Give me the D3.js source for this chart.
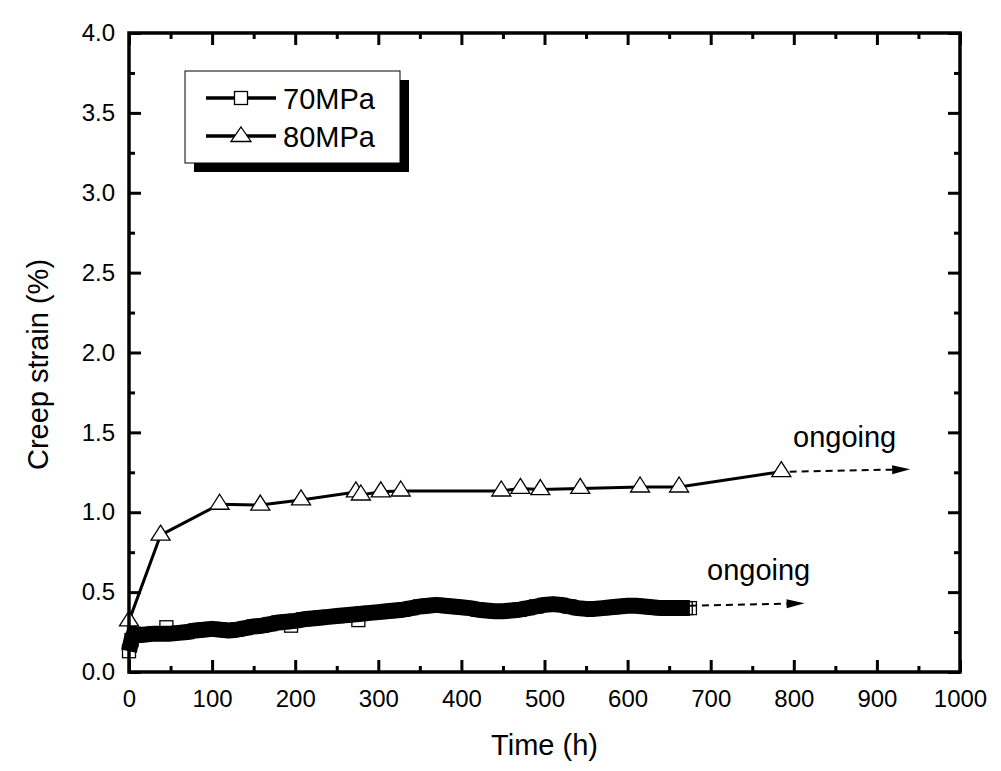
<!DOCTYPE html>
<html>
<head>
<meta charset="utf-8">
<script src="https://cdn.jsdelivr.net/npm/d3@7"></script>
<style>
  html, body { margin: 0; padding: 0; background: #fff; }
  svg { display: block; }
  text { font-family: "Liberation Sans", Arial, sans-serif; fill: #000; }
</style>
</head>
<body>
<svg id="chart" width="1001" height="771"></svg>
<script>
// ---------------- data ----------------
// 70 MPa (dense record, read off the band centre)
const hours70  = [0, 3, 6, 10, 20, 30, 40, 50, 60, 70, 80, 90, 100, 110, 120, 130, 140, 150, 160, 170, 180, 190, 200,
                  210, 220, 230, 240, 250, 260, 270, 280, 290, 300, 310, 320, 330, 340, 350, 360, 370, 380, 390, 400,
                  410, 420, 430, 440, 450, 460, 470, 480, 490, 500, 510, 520, 530, 540, 550, 560, 570, 580, 590, 600,
                  610, 620, 630, 640, 650, 660, 670, 675];
const strain70 = [0.13, 0.20, 0.24, 0.23, 0.235, 0.24, 0.24, 0.24, 0.245, 0.25, 0.26, 0.265, 0.27, 0.265, 0.26, 0.265, 0.275, 0.285, 0.29, 0.30, 0.31, 0.315, 0.32,
                  0.33, 0.335, 0.34, 0.345, 0.35, 0.355, 0.36, 0.365, 0.37, 0.375, 0.38, 0.385, 0.39, 0.40, 0.41, 0.415, 0.42, 0.415, 0.41, 0.405,
                  0.40, 0.39, 0.385, 0.38, 0.38, 0.385, 0.39, 0.40, 0.41, 0.42, 0.425, 0.42, 0.41, 0.40, 0.395, 0.395, 0.40, 0.405, 0.41, 0.415,
                  0.415, 0.41, 0.405, 0.40, 0.40, 0.40, 0.40, 0.40];
// a few 70 MPa readings that stick out of the band
const hours70Out  = [45, 195, 276];
const strain70Out = [0.28, 0.29, 0.325];

// 80 MPa
const hours80  = [0, 38, 109, 158, 207, 273, 279, 303, 327, 448, 471, 495, 543, 615, 662, 785];
const strain80 = [0.32, 0.857, 1.05, 1.045, 1.077, 1.127, 1.108, 1.128, 1.133, 1.133, 1.149, 1.142, 1.149, 1.158, 1.158, 1.254];

// "ongoing" arrows: [start, tip] in data units
const arrow70 = { h: [675, 813], v: [0.415, 0.43] };
const arrow80 = { h: [795, 940], v: [1.254, 1.269] };
const noteText = "ongoing";
const seriesNames = ["70MPa", "80MPa"];

const xTicks = [0, 100, 200, 300, 400, 500, 600, 700, 800, 900, 1000];
const xMinor = [50, 150, 250, 350, 450, 550, 650, 750, 850, 950];
const yTicks = [0, 0.5, 1.0, 1.5, 2.0, 2.5, 3.0, 3.5, 4.0];
const yMinor = [0.25, 0.75, 1.25, 1.75, 2.25, 2.75, 3.25, 3.75];
const xTitle = "Time (h)";
const yTitle = "Creep strain (%)";

// ---------------- layout ----------------
const L = 129, R = 960, T = 33, B = 672;
const svg = d3.select("#chart");
const x = d3.scaleLinear().domain([0, 1000]).range([L, R]);
const y = d3.scaleLinear().domain([0, 4]).range([B, T]);

// ---------------- axes ----------------
function styleAxis(g) {
  g.select(".domain").remove();
  g.selectAll(".tick line").attr("stroke", "#000").attr("stroke-width", 3);
  g.selectAll(".tick text").attr("font-size", 24).attr("font-family", "Liberation Sans, Arial, sans-serif");
}
// bottom
svg.append("g").attr("transform", `translate(0,${B})`)
  .call(d3.axisBottom(x).tickValues(xTicks).tickSizeInner(-12).tickSizeOuter(0).tickPadding(18).tickFormat(d3.format("d")))
  .call(styleAxis);
svg.append("g").attr("transform", `translate(0,${B})`)
  .call(d3.axisBottom(x).tickValues(xMinor).tickSizeInner(-6).tickSizeOuter(0).tickFormat(""))
  .call(styleAxis);
// top
svg.append("g").attr("transform", `translate(0,${T})`)
  .call(d3.axisTop(x).tickValues(xTicks).tickSizeInner(-12).tickSizeOuter(0).tickFormat(""))
  .call(styleAxis);
svg.append("g").attr("transform", `translate(0,${T})`)
  .call(d3.axisTop(x).tickValues(xMinor).tickSizeInner(-6).tickSizeOuter(0).tickFormat(""))
  .call(styleAxis);
// left
svg.append("g").attr("transform", `translate(${L},0)`)
  .call(d3.axisLeft(y).tickValues(yTicks).tickSizeInner(-12).tickSizeOuter(0).tickPadding(14).tickFormat(d3.format(".1f")))
  .call(styleAxis);
svg.append("g").attr("transform", `translate(${L},0)`)
  .call(d3.axisLeft(y).tickValues(yMinor).tickSizeInner(-6).tickSizeOuter(0).tickFormat(""))
  .call(styleAxis);
// right
svg.append("g").attr("transform", `translate(${R},0)`)
  .call(d3.axisRight(y).tickValues(yTicks).tickSizeInner(-12).tickSizeOuter(0).tickFormat(""))
  .call(styleAxis);
svg.append("g").attr("transform", `translate(${R},0)`)
  .call(d3.axisRight(y).tickValues(yMinor).tickSizeInner(-6).tickSizeOuter(0).tickFormat(""))
  .call(styleAxis);

// axis titles
svg.append("text").attr("x", (L + R) / 2).attr("y", 755)
  .attr("text-anchor", "middle").attr("font-size", 29).text(xTitle);
svg.append("text").attr("transform", `translate(48,${(T + B) / 2 + 12}) rotate(-90)`)
  .attr("text-anchor", "middle").attr("font-size", 29).text(yTitle);

// ---------------- series ----------------
const d70 = hours70.map((h, i) => ({ h, v: strain70[i] }));
const d70out = hours70Out.map((h, i) => ({ h, v: strain70Out[i] }));
const d80 = hours80.map((h, i) => ({ h, v: strain80[i] }));
const line = d3.line().x(d => x(d.h)).y(d => y(d.v));

const plot = svg.append("g");

// 70 MPa: dense overlapping hollow squares form a thick black band
plot.append("path").datum(d70).attr("d", line)
  .attr("fill", "none").attr("stroke", "#000").attr("stroke-width", 16)
  .attr("stroke-linejoin", "round").attr("stroke-linecap", "butt");
const sq = 13;
plot.selectAll("rect.s70").data(d70.concat(d70out)).join("rect")
  .attr("class", "s70")
  .attr("x", d => x(d.h) - sq / 2).attr("y", d => y(d.v) - sq / 2)
  .attr("width", sq).attr("height", sq)
  .attr("fill", "none").attr("stroke", "#000").attr("stroke-width", 1.3);

// 80 MPa
plot.append("path").datum(d80).attr("d", line)
  .attr("fill", "none").attr("stroke", "#000").attr("stroke-width", 3);
const triPath = "M0,-10L9.5,5L-9.5,5Z";
plot.selectAll("path.t80").data(d80).join("path")
  .attr("class", "t80")
  .attr("d", triPath)
  .attr("transform", d => `translate(${x(d.h)},${y(d.v)})`)
  .attr("fill", "#fff").attr("stroke", "#000").attr("stroke-width", 1.3);

// ---------------- ongoing arrows ----------------
function arrow(a) {
  const x0 = x(a.h[0]), y0 = y(a.v[0]), x1 = x(a.h[1]), y1 = y(a.v[1]);
  const ang = Math.atan2(y1 - y0, x1 - x0);
  const len = 18, hw = 4.5;
  const bx = x1 - len * Math.cos(ang), by = y1 - len * Math.sin(ang);
  svg.append("line").attr("x1", x0).attr("y1", y0).attr("x2", bx).attr("y2", by)
    .attr("stroke", "#000").attr("stroke-width", 2).attr("stroke-dasharray", "7,5");
  const px = -Math.sin(ang) * hw, py = Math.cos(ang) * hw;
  svg.append("path")
    .attr("d", `M${x1},${y1}L${bx + px},${by + py}L${bx - px},${by - py}Z`)
    .attr("fill", "#000");
}
arrow(arrow70);
arrow(arrow80);

svg.append("text").attr("x", 707).attr("y", 580).attr("font-size", 29).text(noteText);
svg.append("text").attr("x", 793).attr("y", 447).attr("font-size", 29).text(noteText);

// ---------------- frame ----------------
svg.append("rect").attr("x", L).attr("y", T).attr("width", R - L).attr("height", B - T)
  .attr("fill", "none").attr("stroke", "#000").attr("stroke-width", 3.5);

// ---------------- legend ----------------
const lg = svg.append("g");
lg.append("rect").attr("x", 194).attr("y", 80).attr("width", 215).attr("height", 92).attr("fill", "#000");
lg.append("rect").attr("x", 185).attr("y", 71).attr("width", 215).attr("height", 92)
  .attr("fill", "#fff").attr("stroke", "#000").attr("stroke-width", 1);
const rows = [98, 136];
rows.forEach((ry, i) => {
  lg.append("line").attr("x1", 206).attr("x2", 276).attr("y1", ry).attr("y2", ry)
    .attr("stroke", "#000").attr("stroke-width", 3.5);
  if (i === 0) {
    lg.append("rect").attr("x", 241 - 6.5).attr("y", ry - 6.5).attr("width", 13).attr("height", 13)
      .attr("fill", "#fff").attr("stroke", "#000").attr("stroke-width", 1.3);
  } else {
    lg.append("path").attr("d", "M0,-10L10,4.5L-10,4.5Z").attr("transform", `translate(241,${ry + 1})`)
      .attr("fill", "#fff").attr("stroke", "#000").attr("stroke-width", 1.3);
  }
  lg.append("text").attr("x", 283).attr("y", ry + 10.5).attr("font-size", 29).text(seriesNames[i]);
});
</script>
</body>
</html>
